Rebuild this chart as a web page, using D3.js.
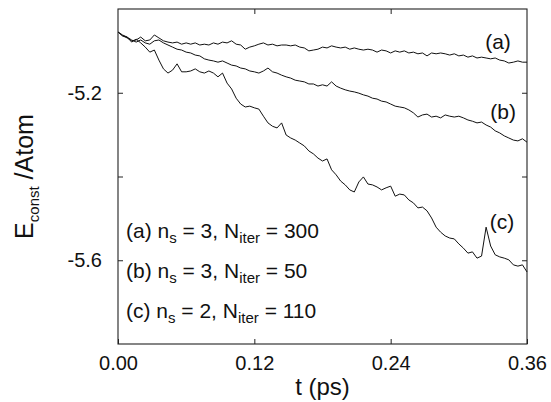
<!DOCTYPE html>
<html>
<head>
<meta charset="utf-8">
<script src="https://cdn.jsdelivr.net/npm/d3@7"></script>
<style>
  body { margin: 0; background: #fff; }
  text { font-family: "Liberation Sans", Arial, Helvetica, sans-serif; fill: #111; }
</style>
</head>
<body>
<div id="chart"></div>
<script>
// time grid (ps), one sample every 0.004 ps
var times = d3.range(91).map((i) => +(i * 0.004).toFixed(3));

// (a) n_s = 3, N_iter = 300
var seriesA = [
  -5.055,-5.064,-5.069,-5.076,-5.074,-5.067,-5.076,-5.074,-5.062,-5.069,
  -5.076,-5.079,-5.081,-5.079,-5.084,-5.081,-5.084,-5.081,-5.086,-5.084,
  -5.086,-5.081,-5.084,-5.079,-5.081,-5.076,-5.084,-5.086,-5.096,-5.091,
  -5.088,-5.084,-5.081,-5.086,-5.084,-5.088,-5.086,-5.086,-5.088,-5.086,
  -5.091,-5.093,-5.100,-5.098,-5.096,-5.091,-5.093,-5.088,-5.091,-5.093,
  -5.091,-5.096,-5.093,-5.096,-5.098,-5.096,-5.098,-5.103,-5.098,-5.100,
  -5.105,-5.100,-5.103,-5.100,-5.105,-5.103,-5.107,-5.105,-5.112,-5.105,
  -5.107,-5.105,-5.107,-5.110,-5.107,-5.112,-5.110,-5.115,-5.112,-5.117,
  -5.115,-5.117,-5.119,-5.117,-5.122,-5.124,-5.129,-5.127,-5.124,-5.127,
  -5.127
];

// (b) n_s = 3, N_iter = 50
var seriesB = [
  -5.055,-5.062,-5.067,-5.074,-5.079,-5.074,-5.081,-5.084,-5.076,-5.074,
  -5.081,-5.086,-5.091,-5.096,-5.098,-5.103,-5.105,-5.110,-5.112,-5.119,
  -5.122,-5.124,-5.127,-5.124,-5.129,-5.134,-5.136,-5.141,-5.143,-5.148,
  -5.150,-5.153,-5.148,-5.141,-5.150,-5.153,-5.158,-5.162,-5.165,-5.170,
  -5.172,-5.174,-5.179,-5.179,-5.184,-5.181,-5.184,-5.174,-5.184,-5.189,
  -5.193,-5.196,-5.198,-5.201,-5.205,-5.208,-5.213,-5.215,-5.220,-5.222,
  -5.227,-5.232,-5.234,-5.236,-5.241,-5.248,-5.258,-5.253,-5.251,-5.258,
  -5.256,-5.260,-5.253,-5.256,-5.258,-5.256,-5.260,-5.265,-5.268,-5.272,
  -5.270,-5.277,-5.282,-5.291,-5.296,-5.303,-5.308,-5.313,-5.315,-5.310,
  -5.318
];

// (c) n_s = 2, N_iter = 110
var seriesC = [
  -5.055,-5.064,-5.067,-5.079,-5.072,-5.081,-5.091,-5.103,-5.098,-5.122,
  -5.143,-5.153,-5.146,-5.131,-5.150,-5.150,-5.148,-5.143,-5.150,-5.153,
  -5.148,-5.153,-5.162,-5.153,-5.177,-5.191,-5.213,-5.227,-5.234,-5.232,
  -5.236,-5.239,-5.256,-5.272,-5.280,-5.284,-5.272,-5.301,-5.308,-5.313,
  -5.320,-5.327,-5.339,-5.346,-5.356,-5.363,-5.358,-5.384,-5.396,-5.411,
  -5.420,-5.432,-5.437,-5.413,-5.401,-5.418,-5.420,-5.425,-5.432,-5.427,
  -5.423,-5.447,-5.442,-5.444,-5.456,-5.463,-5.475,-5.473,-5.482,-5.499,
  -5.521,-5.533,-5.542,-5.547,-5.549,-5.561,-5.571,-5.583,-5.580,-5.595,
  -5.590,-5.521,-5.566,-5.587,-5.592,-5.595,-5.599,-5.611,-5.614,-5.611,
  -5.628
];

var xTicks = [0, 0.12, 0.24, 0.36];
var yTicks = [-5.2, -5.4, -5.6];
var yLabelled = [-5.2, -5.6];

var curveLabels = [
  { name: "(a)", t: 0.3345, e: -5.0965 },
  { name: "(b)", t: 0.339, e: -5.2635 },
  { name: "(c)", t: 0.338, e: -5.526 }
];

var legendRows = [
  { tag: "(a)", ns: "3", niter: "300" },
  { tag: "(b)", ns: "3", niter: "50" },
  { tag: "(c)", ns: "2", niter: "110" }
];

var width = 551;
var height = 402;
var margin = { top: 9, right: 24, bottom: 58, left: 118 };
var w = width - margin.left - margin.right;
var h = height - margin.top - margin.bottom;

var svg = d3
  .select("#chart")
  .append("svg")
  .attr("width", width)
  .attr("height", height)
  .append("g")
  .attr("transform", "translate(" + margin.left + "," + margin.top + ")");

var x = d3.scaleLinear().domain([0, 0.36]).range([0, w]);
var y = d3.scaleLinear().domain([-5.8, -5.0]).range([h, 0]);

// axes: inward ticks on all four sides
var bottom = svg
  .append("g")
  .attr("transform", "translate(0," + h + ")")
  .call(
    d3.axisBottom(x)
      .tickValues(xTicks)
      .tickSizeInner(-5)
      .tickSizeOuter(0)
      .tickPadding(12)
      .tickFormat((d) => d.toFixed(2))
  );
bottom.selectAll("text").style("font-size", "20px");

svg
  .append("g")
  .call(d3.axisTop(x).tickValues([0.12, 0.24]).tickSizeInner(-5).tickSizeOuter(0).tickFormat(""));

var left = svg
  .append("g")
  .call(
    d3.axisLeft(y)
      .tickValues(yTicks)
      .tickSizeInner(-5)
      .tickSizeOuter(0)
      .tickPadding(16)
      .tickFormat((d) => (yLabelled.includes(d) ? d.toFixed(1) : ""))
  );
left.selectAll("text").style("font-size", "20px");

svg
  .append("g")
  .attr("transform", "translate(" + w + ",0)")
  .call(d3.axisRight(y).tickValues(yTicks).tickSizeInner(-5).tickSizeOuter(0).tickFormat(""));

svg.selectAll(".domain").remove();
svg.selectAll(".tick line").attr("stroke", "#222");

// frame
svg
  .append("rect")
  .attr("width", w)
  .attr("height", h)
  .attr("fill", "none")
  .attr("stroke", "#222")
  .attr("stroke-width", 1.1);

// curves
var line = d3
  .line()
  .x((d, i) => x(times[i]))
  .y((d) => y(d));

[seriesA, seriesB, seriesC].forEach(function (s) {
  svg
    .append("path")
    .datum(s)
    .attr("d", line)
    .attr("fill", "none")
    .attr("stroke", "#111")
    .attr("stroke-width", 1)
    .attr("stroke-linejoin", "round");
});

// curve tags
svg
  .selectAll(".tag")
  .data(curveLabels)
  .enter()
  .append("text")
  .attr("class", "tag")
  .attr("x", (d) => x(d.t))
  .attr("y", (d) => y(d.e))
  .attr("text-anchor", "middle")
  .style("font-size", "21px")
  .text((d) => d.name);

// parameter legend
var rows = svg
  .selectAll(".legend")
  .data(legendRows)
  .enter()
  .append("text")
  .attr("class", "legend")
  .attr("x", 8)
  .attr("y", (d, i) => 229 + i * 40)
  .style("font-size", "21px");

rows.append("tspan").text((d) => d.tag + " n");
rows.append("tspan").attr("dy", 5).style("font-size", "15px").text("s");
rows.append("tspan").attr("dy", -5).text((d) => " = " + d.ns + ", N");
rows.append("tspan").attr("dy", 5).style("font-size", "15px").text("iter");
rows.append("tspan").attr("dy", -5).text((d) => " = " + d.niter);

// axis titles
svg
  .append("text")
  .attr("x", w / 2)
  .attr("y", h + 51)
  .attr("text-anchor", "middle")
  .style("font-size", "24px")
  .text("t (ps)");

var yTitle = svg
  .append("text")
  .attr("transform", "translate(" + (33 - margin.left) + "," + h / 2 + ") rotate(-90)")
  .attr("text-anchor", "middle")
  .style("font-size", "25px");
yTitle.append("tspan").text("E");
yTitle.append("tspan").attr("dy", 6).style("font-size", "15px").text("const");
yTitle.append("tspan").attr("dy", -6).text(" /Atom");
</script>
</body>
</html>
